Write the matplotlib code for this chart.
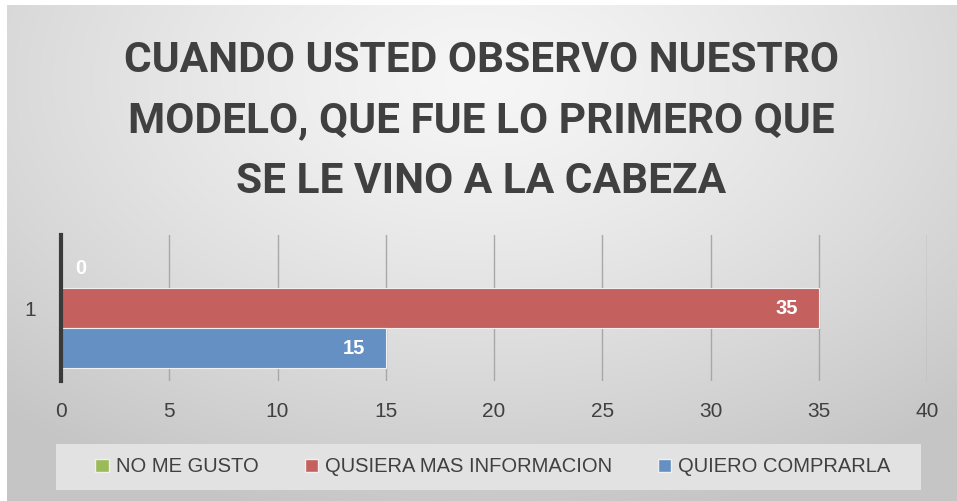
import numpy as np
import matplotlib
matplotlib.use("Agg")
import matplotlib.pyplot as plt
from matplotlib.patches import Patch, Rectangle

# data
series = ["NO ME GUSTO", "QUSIERA MAS INFORMACION", "QUIERO COMPRARLA"]
values = [0, 35, 15]
colors = ["#9bbb59", "#c4615f", "#6490c3"]
category = "1"
title = "CUANDO USTED OBSERVO NUESTRO\nMODELO, QUE FUE LO PRIMERO QUE\nSE LE VINO A LA CABEZA"
xticks = [0, 5, 10, 15, 20, 25, 30, 35, 40]

FONT = "Liberation Sans"
W, H = 957, 501
fig = plt.figure(figsize=(W / 100, H / 100), dpi=100)
fig.patch.set_facecolor("white")

# radial gradient background
bg = fig.add_axes([7 / W, 0, (W - 7) / W, (H - 5) / H])
bg.set_axis_off()
yy, xx = np.mgrid[0:1:300j, 0:1:600j]
r = np.sqrt(((xx - 0.5) / 0.75) ** 2 + ((yy - 0.15) / 0.9) ** 2)
g = 0.965 - 0.19 * np.clip(r, 0, 1) ** 1.3
bg.imshow(np.dstack([g, g, g]), aspect="auto", extent=[0, 1, 0, 1], origin="upper")
bg.set_xlim(0, 1)
bg.set_ylim(0, 1)

fig.text(481 / W, 1 - 121 / H, title, ha="center", va="center",
         fontsize=30.5, fontweight="bold", color="#404040",
         family="Roboto", linespacing=1.6)

ax = fig.add_axes([61 / W, 120 / H, 866 / W, 146 / H])
ax.patch.set_alpha(0)
ypos = [1, 0, -1]
bars = ax.barh(ypos, values, height=1.0, color=colors, edgecolor="#f0f0f0",
               linewidth=0.8, zorder=3)
for y, v in zip(ypos, values):
    if v > 0:
        ax.text(v - 0.95, y, str(v), ha="right", va="center", color="white",
                fontsize=14.5, fontweight="bold", family=FONT, zorder=4)
    else:
        ax.text(0.9, y, str(v), ha="center", va="center", color="white",
                fontsize=14.5, fontweight="bold", family=FONT, zorder=4)

ax.set_xlim(0, 40)
ax.set_ylim(-1.82, 1.84)
ax.set_xticks(xticks)
ax.set_xticklabels([str(t) for t in xticks], fontsize=15, color="#404040",
                   family=FONT)
ax.set_yticks([0])
ax.set_yticklabels([category], fontsize=15, color="#404040", family=FONT)
ax.tick_params(length=0, pad=15)
ax.tick_params(axis="y", pad=18)
ax.grid(axis="x", color="#a8a8a8", linewidth=1.0, zorder=1)
for s in ["top", "right", "bottom"]:
    ax.spines[s].set_visible(False)
ax.spines["left"].set_color("#3a3a3a")
ax.spines["left"].set_linewidth(3)
ax.spines["left"].set_zorder(5)

# legend band
fig.add_artist(Rectangle((56 / W, 1 - 490 / H), 865 / W, 46 / H,
                         transform=fig.transFigure, facecolor="#e2e2e2",
                         edgecolor="none", zorder=1))
handles = [Patch(facecolor=c, edgecolor="#f0f0f0", label=s) for s, c in zip(series, colors)]
leg = fig.legend(handles=handles, ncol=3, loc="center",
                 bbox_to_anchor=(493 / W, 1 - 467 / H),
                 prop={"family": FONT, "size": 14.5},
                 frameon=False, handlelength=0.65, handleheight=0.65,
                 handletextpad=0.35, columnspacing=2.3)
leg.set_zorder(2)
for t in leg.get_texts():
    t.set_color("#404040")

fig.savefig("out.png", dpi=100)
